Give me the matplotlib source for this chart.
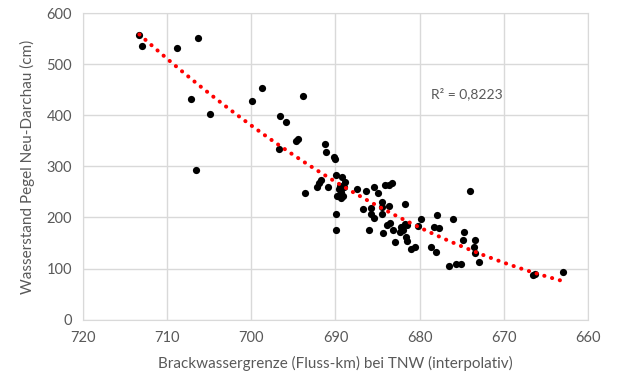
import matplotlib.pyplot as plt
import numpy as np

plt.rcParams['font.family'] = ['Lato', 'DejaVu Sans']

# Brackwassergrenze (Fluss-km) und Pegel Neu-Darchau (cm)
km = np.array([
    713.3, 713.0, 708.8, 706.3, 707.2, 704.9, 706.6, 699.9,
    698.7, 693.9, 696.6, 695.9, 694.7, 694.5, 696.7, 691.3, 691.1,
    690.2, 690.0, 693.6, 692.2, 692.0, 691.7, 690.9,
    689.9, 689.2, 688.9, 689.0, 689.8, 689.4, 689.1, 689.9, 689.9,
    689.5, 689.6, 689.3,
    687.4, 686.4, 685.4, 684.9, 684.1, 683.7, 683.3,
    686.7, 685.8, 685.8, 685.4, 684.5, 684.5, 684.5, 683.7,
    686.0, 683.9, 683.5, 684.3, 683.2, 682.9,
    681.8, 682.2, 682.0, 682.3, 681.7, 681.5,
    681.6, 681.5, 681.0, 680.6, 680.2, 679.8,
    678.0, 678.3, 677.7, 678.6, 678.1, 676.1, 674.0,
    676.5, 675.7, 675.1, 674.7, 674.9, 673.4, 673.6, 673.0, 673.4,
    666.5, 666.3, 663.0,
])
pegel = np.array([
    557, 536, 531, 551, 432, 402, 293, 428,
    453, 438, 399, 386, 350, 354, 334, 344, 328,
    319, 315, 248, 259, 267, 274, 259,
    283, 280, 270, 259, 242, 238, 242, 207, 175,
    262, 255, 250,
    256, 251, 260, 247, 263, 264, 267,
    216, 219, 206, 198, 231, 220, 207, 223,
    176, 185, 190, 169, 176, 152,
    226, 182, 176, 172, 187, 185,
    161, 153, 138, 143, 183, 197,
    205, 181, 180, 142, 132, 196, 251,
    105, 108, 108, 171, 156, 156, 143, 112, 130,
    88, 90, 93,
])

x_ticks = np.arange(720, 659, -10)
y_ticks = np.arange(0, 601, 100)

# polynomischer Trend 2. Ordnung
coef = np.polyfit(km, pegel, 2)
xs = np.linspace(km.max(), km.min(), 200)
ys = np.polyval(coef, xs)

fig = plt.figure(figsize=(6.19, 3.76), dpi=100)
ax = fig.add_axes([0.134, 0.150, 0.816, 0.815])

ax.scatter(km, pegel, s=27, color='black', zorder=3, linewidths=0)
ax.plot(xs, ys, color='#ff0000', lw=2.9, linestyle=(0, (0.05, 1.95)),
        dash_capstyle='round', zorder=4)

ax.text(678.6, 442, 'R² = 0,8223', fontsize=10, color='#595959',
        ha='left', va='center')

ax.set_xlim(720, 660)
ax.set_ylim(0, 600)
ax.set_xticks(x_ticks)
ax.set_yticks(y_ticks)
ax.grid(True, color='#d9d9d9', lw=1)
ax.set_axisbelow(True)
for s in ax.spines.values():
    s.set_color('#d9d9d9')
ax.tick_params(length=0, labelsize=10.5, labelcolor='#595959', pad=8)

ax.set_xlabel('Brackwassergrenze (Fluss-km) bei TNW (interpolativ)',
              fontsize=11, color='#595959', labelpad=8)
ax.set_ylabel('Wasserstand Pegel Neu-Darchau (cm)',
              fontsize=11, color='#595959', labelpad=8)

fig.savefig('out.png', dpi=100)
